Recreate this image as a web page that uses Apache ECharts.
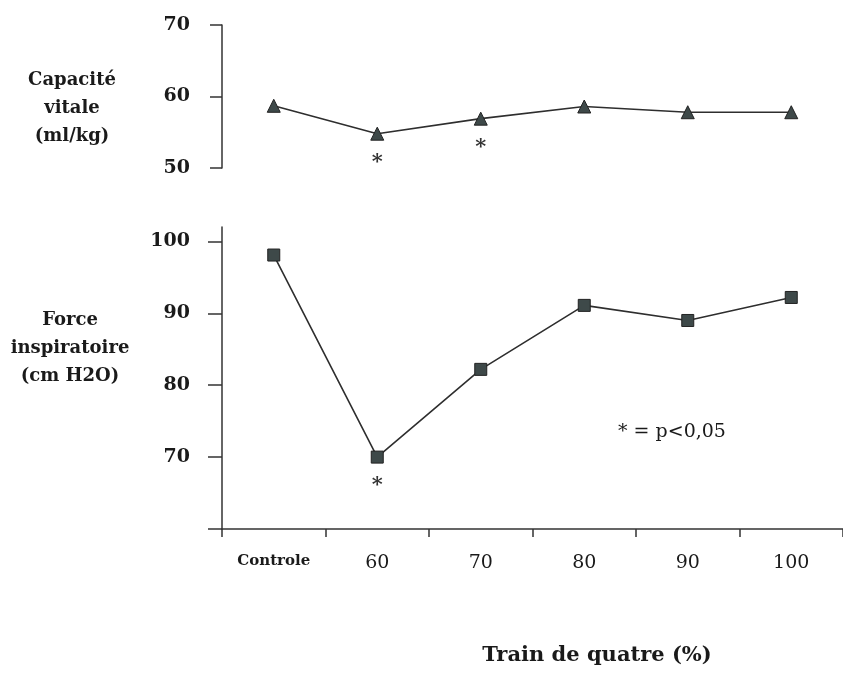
<!DOCTYPE html>
<html>
<head>
<meta charset="utf-8">
<script src="https://cdn.jsdelivr.net/npm/echarts@6/dist/echarts.min.js"></script>
<style>html,body{margin:0;padding:0;background:#fff;}#c{width:843px;height:675px;}</style>
</head>
<body>
<div id="c"></div>
<script>
const categories = ['Controle', '60', '70', '80', '90', '100'];
const capaciteVitale = [58.7, 54.8, 56.9, 58.6, 57.8, 57.8];
const capaciteSignif = [false, true, true, false, false, false];
const forceInspiratoire = [98.1, 70, 82.2, 91.1, 89, 92.2];
const forceSignif = [false, true, false, false, false, false];
const topTicks = [50, 60, 70];
const bottomTicks = [60, 70, 80, 90, 100];
const bottomLabels = [70, 80, 90, 100];

const SERIF = '"DejaVu Serif", "Liberation Serif", serif';
const INK = '#1a1a1a';
const MARK = '#3e4949';

function starLabel(flags) {
  return {
    show: true,
    position: 'bottom',
    distance: 11,
    formatter: p => flags[p.dataIndex] ? '*' : '',
    fontFamily: SERIF,
    fontWeight: 'bold',
    fontSize: 21,
    color: '#333'
  };
}

const chart = echarts.init(document.getElementById('c'));
chart.setOption({
  backgroundColor: '#fff',
  animation: false,
  grid: [
    { left: 222, right: -6, top: 25, height: 143 },
    { left: 222, right: -6, top: 227, height: 302 }
  ],
  xAxis: [
    { type: 'category', gridIndex: 0, data: categories, boundaryGap: true,
      axisLine: { show: false }, axisTick: { show: false }, axisLabel: { show: false }, splitLine: { show: false } },
    { type: 'category', gridIndex: 1, data: categories, boundaryGap: true,
      axisLine: { show: true, lineStyle: { color: '#333', width: 1.5 } },
      axisTick: { show: true, length: 8, alignWithLabel: false, lineStyle: { color: '#333', width: 1.5 } },
      axisLabel: {
        margin: 25,
        formatter: (v, i) => i === 0 ? '{c|' + v + '}' : '{n|' + v + '}',
        rich: {
          c: { fontFamily: SERIF, fontWeight: 'bold', fontSize: 15, color: INK },
          n: { fontFamily: SERIF, fontWeight: 'normal', fontSize: 19, color: INK }
        }
      },
      splitLine: { show: false } }
  ],
  yAxis: [
    { type: 'value', gridIndex: 0, min: 50, max: 70, interval: 10,
      axisLine: { show: true, lineStyle: { color: '#333', width: 1.5 } },
      axisTick: { show: true, length: 12, customValues: topTicks, lineStyle: { color: '#333', width: 1.5 } },
      axisLabel: { margin: 32, customValues: topTicks, fontFamily: SERIF, fontWeight: 'bold', fontSize: 19, color: INK },
      splitLine: { show: false } },
    { type: 'value', gridIndex: 1, min: 60, max: 102, interval: 10,
      axisLine: { show: true, lineStyle: { color: '#333', width: 1.5 } },
      axisTick: { show: true, length: 14, customValues: bottomTicks, lineStyle: { color: '#333', width: 1.5 } },
      axisLabel: { margin: 32, customValues: bottomLabels, fontFamily: SERIF, fontWeight: 'bold', fontSize: 19, color: INK },
      splitLine: { show: false } }
  ],
  series: [
    { name: 'Capacité vitale', type: 'line', xAxisIndex: 0, yAxisIndex: 0,
      data: capaciteVitale, symbol: 'triangle', symbolSize: 13,
      itemStyle: { color: MARK, borderColor: '#222', borderWidth: 1 },
      lineStyle: { color: '#2e2e2e', width: 1.6 },
      label: starLabel(capaciteSignif) },
    { name: 'Force inspiratoire', type: 'line', xAxisIndex: 1, yAxisIndex: 1,
      data: forceInspiratoire, symbol: 'rect', symbolSize: 12,
      itemStyle: { color: MARK, borderColor: '#222', borderWidth: 1 },
      lineStyle: { color: '#2e2e2e', width: 1.6 },
      label: starLabel(forceSignif) }
  ],
  graphic: [
    { type: 'text', x: 72, y: 108, style: { text: 'Capacité\nvitale\n(ml/kg)', align: 'center', verticalAlign: 'middle', font: 'bold 18px ' + SERIF, lineHeight: 28, fill: INK } },
    { type: 'text', x: 70, y: 348, style: { text: 'Force\ninspiratoire\n(cm H2O)', align: 'center', verticalAlign: 'middle', font: 'bold 18px ' + SERIF, lineHeight: 28, fill: INK } },
    { type: 'text', x: 672, y: 432, style: { text: '* = p<0,05', align: 'center', verticalAlign: 'middle', font: '19px ' + SERIF, fill: INK } },
    { type: 'text', x: 597, y: 656, style: { text: 'Train de quatre (%)', align: 'center', verticalAlign: 'middle', font: 'bold 21px ' + SERIF, fill: INK } }
  ]
});
</script>
</body>
</html>
